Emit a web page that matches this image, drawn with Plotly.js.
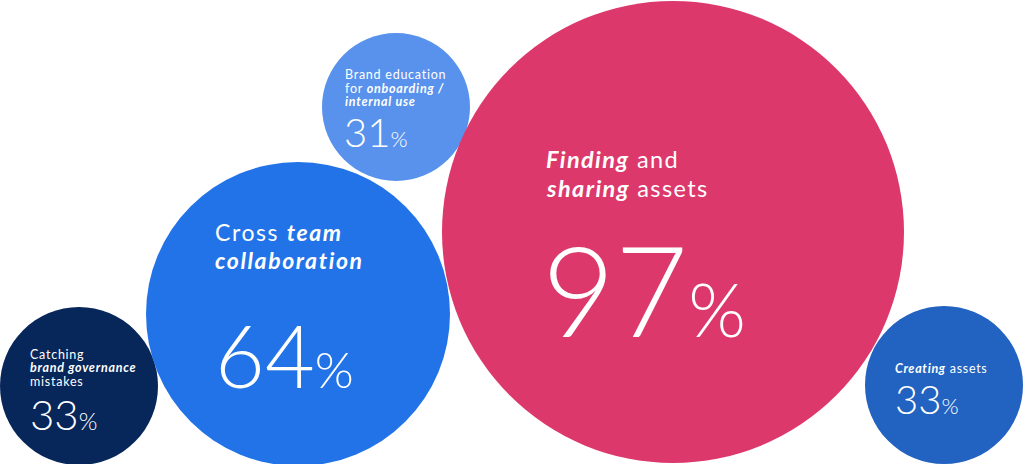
<!DOCTYPE html>
<html>
<head>
<meta charset="utf-8">
<script src="https://cdn.plot.ly/plotly-3.0.1.min.js"></script>
<style>html,body{margin:0;padding:0;background:#fff;}#chart{width:1024px;height:464px;}</style>
</head>
<body>
<div id="chart"></div>
<script>
// ---- data ----
const categories = [
  "Catching brand governance mistakes",
  "Cross team collaboration",
  "Brand education for onboarding / internal use",
  "Finding and sharing assets",
  "Creating assets"
];
const values = [33, 64, 31, 97, 33];
const EM = s => "<b><i>" + s + "</i></b>";
const labelLines = [
  ["Catching", EM("brand governance"), "mistakes"],
  ["Cross " + EM("team"), EM("collaboration")],
  ["Brand education", "for " + EM("onboarding /"), EM("internal use")],
  [EM("Finding") + " and", EM("sharing") + " assets"],
  [EM("Creating") + " assets"]
];

// ---- layout (positions, sizes, styles) ----
const cx = [79, 298, 396, 673, 944];
const cy = [386, 314, 107, 232, 385];
const rad = [79, 152, 74, 231, 79];
const colors = ["#07265A", "#2273E8", "#5892EC", "#DC386B", "#2262C0"];
const textX = [29, 214, 344, 545, 894];
const labelSize = [12.5, 23, 12.5, 23.5, 12.5];
const letterSp = [0.75, 1.6, 0.75, 1.4, 0.7];
const labelBase = [[359, 372.8, 386.6], [240.7, 269], [79.3, 93, 106.5], [168, 197], [373]];
const numSize = [42, 86, 40, 126, 40];
const pctSize = [24, 50, 22, 74, 22];
const numBase = [430, 388, 148, 338, 415];
const numX = [29, 214, 343, 541, 894];

const FONT = "Lato, 'Open Sans', sans-serif";
const shapes = [];
const annotations = [];
values.forEach((v, i) => {
  shapes.push({
    type: "circle", xref: "x", yref: "y",
    x0: cx[i] - rad[i], x1: cx[i] + rad[i],
    y0: cy[i] - rad[i], y1: cy[i] + rad[i],
    fillcolor: colors[i], line: {width: 0}, layer: "below"
  });
  labelLines[i].forEach((ln, j) => {
    annotations.push({
      x: textX[i], y: labelBase[i][j] - 0.39 * labelSize[i],
      xref: "x", yref: "y", xanchor: "left", yanchor: "middle",
      text: '<span style="letter-spacing:' + letterSp[i] + 'px">' + ln + '</span>',
      showarrow: false, borderpad: 0,
      font: {family: FONT, size: labelSize[i], color: "#ffffff"}
    });
  });
  annotations.push({
    x: numX[i], y: numBase[i] - 0.39 * numSize[i],
    xref: "x", yref: "y", xanchor: "left", yanchor: "middle",
    text: v + '<span style="font-size:' + pctSize[i] + 'px">%</span>',
    showarrow: false, borderpad: 0,
    font: {family: FONT, size: numSize[i], color: "#ffffff", weight: 300}
  });
});

const trace = {
  x: cx, y: cy, type: "scatter", mode: "markers",
  marker: {size: 1, opacity: 0}, text: categories, hoverinfo: "none", showlegend: false
};

const layout = {
  width: 1024, height: 464,
  margin: {l: 0, r: 0, t: 0, b: 0},
  paper_bgcolor: "#ffffff", plot_bgcolor: "#ffffff",
  xaxis: {range: [0, 1024], visible: false, fixedrange: true},
  yaxis: {range: [464, 0], visible: false, fixedrange: true},
  shapes: shapes, annotations: annotations, showlegend: false
};

Plotly.newPlot("chart", [trace], layout, {displayModeBar: false, staticPlot: true});
</script>
</body>
</html>
